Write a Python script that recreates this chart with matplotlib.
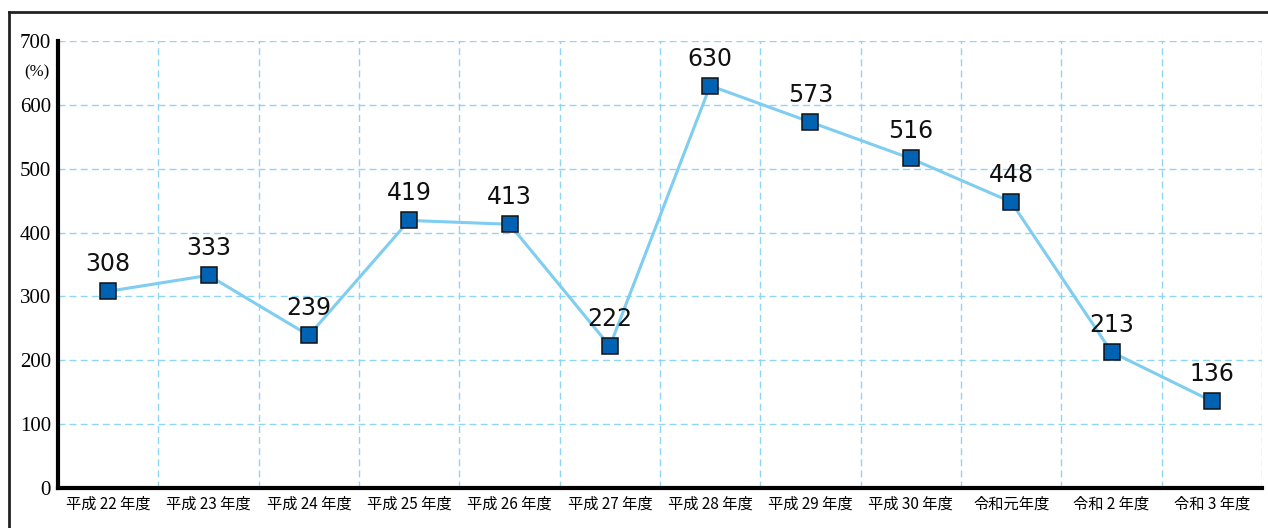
import matplotlib.pyplot as plt
from matplotlib.lines import Line2D

# data
years = ['平成 22 年度', '平成 23 年度', '平成 24 年度', '平成 25 年度', '平成 26 年度',
         '平成 27 年度', '平成 28 年度', '平成 29 年度', '平成 30 年度', '令和元年度',
         '令和 2 年度', '令和 3 年度']
ratio = [308, 333, 239, 419, 413, 222, 630, 573, 516, 448, 213, 136]
yticks = [0, 100, 200, 300, 400, 500, 600, 700]

fig = plt.figure(figsize=(12.68, 5.28), dpi=100)
ax = fig.add_axes([58 / 1268, 1 - 488 / 528, 1204 / 1268, 447 / 528])

x = list(range(len(years)))
ax.plot(x, ratio, color='#7fcdf0', linewidth=2.2, zorder=3)
ax.plot(x, ratio, linestyle='none', marker='s', markersize=11.5,
        markerfacecolor='#0062b3', markeredgecolor='#111111', markeredgewidth=1.1, zorder=4)

for xi, v in zip(x, ratio):
    ax.annotate(str(v), (xi, v), xytext=(0, 19.5), textcoords='offset points',
                ha='center', va='center', fontsize=17, family='DejaVu Sans',
                color='#111111')

ax.set_xlim(-0.5, len(years) - 0.5)
ax.set_ylim(0, 700)

ax.set_xticks(x)
ax.set_xticklabels(years, family=['Noto Sans CJK JP', 'DejaVu Sans'], fontsize=11)
ax.set_xticks([i + 0.5 for i in x], minor=True)
ax.set_yticks(yticks)
ax.set_yticklabels([str(t) for t in yticks], family='Liberation Serif', fontsize=15)
ax.tick_params(axis='both', which='both', length=0)
ax.tick_params(axis='x', pad=5.5)
ax.tick_params(axis='y', pad=5)

ax.grid(axis='y', which='major', color='#8fd6f5', linestyle=(0, (5, 3)), linewidth=1)
ax.grid(axis='x', which='minor', color='#8fd6f5', linestyle=(0, (5, 3)), linewidth=1)
ax.set_axisbelow(True)

for s in ['top', 'right']:
    ax.spines[s].set_visible(False)
for s in ['left', 'bottom']:
    ax.spines[s].set_linewidth(3)
    ax.spines[s].set_color('black')

fig.text(37 / 1268, 1 - 72 / 528, '(%)', ha='center', va='center',
         fontsize=12, family='Liberation Serif')

# outer frame
fig.add_artist(Line2D([9 / 1268, 9 / 1268], [0, 1 - 12 / 528], color='#222222', linewidth=2,
                      transform=fig.transFigure))
fig.add_artist(Line2D([9 / 1268, 1], [1 - 12 / 528, 1 - 12 / 528], color='#222222', linewidth=2,
                      transform=fig.transFigure))

fig.savefig('out.png', dpi=100)
